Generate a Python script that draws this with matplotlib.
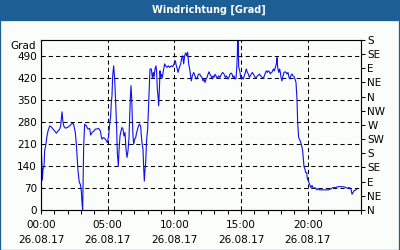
import matplotlib
matplotlib.use('Agg')
import matplotlib.pyplot as plt
from matplotlib.patches import Rectangle

# wind direction readings, hours since 00:00 and degrees
hours = [0.0, 0.075, 0.1, 0.15, 0.225, 0.275, 0.375, 0.45, 0.525, 0.65, 0.775, 0.9,
         1.025, 1.15, 1.275, 1.4, 1.475, 1.575, 1.65, 1.725, 1.825, 1.975, 2.15, 2.275,
         2.4, 2.475, 2.575, 2.65, 2.725, 2.775, 2.875, 2.95, 3.025, 3.075, 3.125, 3.2,
         3.275, 3.4, 3.525, 3.65, 3.725, 3.825, 3.975, 4.075, 4.15, 4.325, 4.45, 4.525,
         4.575, 4.675, 4.775, 4.9, 4.975, 5.075, 5.15, 5.225, 5.275, 5.325, 5.375, 5.45,
         5.525, 5.6, 5.675, 5.725, 5.8, 5.85, 5.925, 6.0, 6.075, 6.15, 6.225, 6.3,
         6.375, 6.45, 6.525, 6.6, 6.65, 6.7, 6.75, 6.8, 6.85, 6.9, 6.95, 7.025, 7.1,
         7.175, 7.275, 7.375, 7.475, 7.525, 7.575, 7.65, 7.7, 7.75, 7.8, 7.85, 7.925,
         8.0, 8.075, 8.125, 8.175, 8.275, 8.35, 8.425, 8.475, 8.55, 8.625, 8.675, 8.725,
         8.775, 8.825, 8.875, 8.925, 8.975, 9.025, 9.1, 9.175, 9.275, 9.35, 9.45, 9.55,
         9.65, 9.775, 9.875, 9.975, 10.075, 10.15, 10.225, 10.275, 10.375, 10.475,
         10.55, 10.625, 10.7, 10.775, 10.85, 10.925, 11.0, 11.075, 11.15, 11.225,
         11.275, 11.35, 11.45, 11.55, 11.65, 11.725, 11.8, 11.9, 11.975, 12.075, 12.15,
         12.225, 12.3, 12.375, 12.45, 12.525, 12.6, 12.675, 12.75, 12.825, 12.9, 12.975,
         13.05, 13.125, 13.225, 13.325, 13.425, 13.525, 13.625, 13.725, 13.825, 13.9,
         13.975, 14.025, 14.1, 14.175, 14.25, 14.325, 14.4, 14.475, 14.55, 14.625,
         14.675, 14.725, 14.75, 14.8, 14.825, 14.875, 14.925, 14.975, 15.025, 15.1,
         15.175, 15.25, 15.325, 15.4, 15.475, 15.55, 15.625, 15.7, 15.775, 15.85,
         15.925, 16.0, 16.075, 16.15, 16.225, 16.3, 16.375, 16.45, 16.525, 16.6,
         16.675, 16.75, 16.825, 16.9, 16.975, 17.05, 17.125, 17.2, 17.275, 17.35,
         17.425, 17.5, 17.575, 17.65, 17.7, 17.75, 17.825, 17.9, 17.975, 18.0, 18.075,
         18.15, 18.225, 18.3, 18.375, 18.45, 18.525, 18.6, 18.675, 18.75, 18.825, 18.9,
         18.975, 19.05, 19.125, 19.2, 19.25, 19.325, 19.4, 19.475, 19.55, 19.625,
         19.675, 19.725, 19.8, 19.85, 19.925, 19.975, 20.025, 20.1, 20.175, 20.25,
         20.325, 20.4, 20.475, 20.55, 20.625, 20.7, 20.775, 20.875, 20.975, 21.075,
         21.175, 21.275, 21.375, 21.475, 21.575, 21.675, 21.775, 21.875, 21.975,
         22.075, 22.175, 22.275, 22.4, 22.525, 22.65, 22.775, 22.875, 22.975, 23.075,
         23.15, 23.225, 23.275, 23.325, 23.4, 23.475, 23.575, 23.675]
degrees = [216, 135, 95, 129, 138, 188, 211, 235, 251, 267, 264, 257,
           251, 244, 251, 257, 267, 312, 278, 265, 260, 262, 267, 273,
           276, 267, 246, 209, 161, 124, 87, 82, 60, 23, 0, 204,
           273, 267, 257, 259, 238, 246, 251, 257, 257, 259, 251, 233,
           225, 230, 228, 220, 214, 235, 273, 299, 342, 363, 426, 458,
           416, 342, 257, 182, 140, 188, 235, 251, 262, 257, 235, 246,
           193, 167, 188, 230, 289, 357, 395, 357, 289, 235, 209, 225, 230,
           246, 262, 273, 267, 235, 214, 193, 135, 92, 129, 151, 225,
           257, 342, 405, 448, 448, 421, 437, 421, 448, 458, 437, 384,
           363, 331, 379, 442, 421, 431, 421, 442, 464, 458, 453, 458,
           453, 458, 455, 464, 474, 458, 448, 437, 453, 464,
           482, 490, 464, 490, 499, 490, 501, 464, 448, 426,
           410, 426, 437, 426, 416, 421, 431, 432, 426, 421, 410,
           416, 405, 416, 421, 431, 439, 431, 426, 416, 426, 421,
           431, 426, 418, 426, 421, 431, 437, 432, 421, 426,
           421, 416, 421, 432, 435, 432, 421, 426, 416, 418,
           448, 490, 545, 532, 453, 448, 437, 421, 416, 421,
           416, 426, 437, 448, 437, 432, 421, 426, 432, 437,
           432, 426, 421, 421, 426, 428, 432, 428, 424, 421,
           418, 426, 435, 442, 437, 442, 439, 432, 437, 439,
           448, 442, 453, 464, 484, 453, 437, 448, 430, 421, 410,
           426, 437, 439, 437, 432, 437, 421, 416, 428, 432, 426,
           424, 416, 405, 352, 278, 230, 223, 216, 204, 188,
           161, 138, 129, 119, 119, 100, 95, 87, 78, 71,
           78, 71, 68, 71, 68, 64, 68, 64, 64, 64,
           64, 64, 64, 64, 64, 66, 68, 71, 71,
           71, 73, 74, 74, 74, 74, 73, 71, 69, 71,
           71, 68, 61, 50, 55, 61, 63, 66]

left_ticks = [0, 70, 140, 210, 280, 350, 420, 490]
compass_ticks = list(range(0, 541, 45))
compass_labels = ['N', 'NE', 'E', 'SE', 'S', 'SW', 'W', 'NW', 'N', 'NE', 'E', 'SE', 'S']
time_ticks = [0, 5, 10, 15, 20]
time_labels = ['00:00\n26.08.17', '05:00\n26.08.17', '10:00\n26.08.17',
               '15:00\n26.08.17', '20:00\n26.08.17']

frame_blue = '#1d5f94'
bg = '#fafdfa'
fs = 7.5

fig = plt.figure(figsize=(4, 2.5), dpi=100, facecolor=bg)

# window frame + title bar
fig.patches.append(Rectangle((0, 0.92), 1, 0.08, transform=fig.transFigure,
                             facecolor=frame_blue, edgecolor='none', zorder=0))
fig.patches.append(Rectangle((0.0012, 0.002), 0.9963, 0.92, transform=fig.transFigure,
                             facecolor='none', edgecolor=frame_blue, linewidth=0.9, zorder=0))
fig.text(0.5225, 0.96, 'Windrichtung [Grad]', color='white', fontsize=7, fontweight='bold',
         ha='center', va='center')

ax = fig.add_axes([0.1025, 0.16, 0.8, 0.68])
ax.set_facecolor(bg)
ax.plot(hours, degrees, color='#1010ee', linewidth=0.8)
ax.set_xlim(0, 24)
ax.set_ylim(0, 540)

ax.set_yticks(left_ticks)
ax.set_yticklabels([str(v) for v in left_ticks], fontsize=fs)
ax.tick_params(axis='y', length=0, pad=3)
ax.set_xticks(time_ticks)
ax.set_xticks(range(0, 25), minor=True)
ax.set_xticklabels(time_labels, fontsize=fs, linespacing=1.6)
ax.tick_params(axis='x', which='both', direction='out', length=3, width=0.75, pad=4)

ax.grid(True, which='major', color='black', linestyle=(0, (4, 3)), linewidth=0.75)
for s in ax.spines.values():
    s.set_linewidth(0.75)

ax2 = ax.twinx()
ax2.set_ylim(0, 540)
ax2.set_yticks(compass_ticks)
ax2.set_yticklabels(compass_labels, fontsize=fs)
ax2.tick_params(axis='y', direction='out', length=3, width=0.75, pad=1.5)

fig.text(0.09, 0.815, 'Grad', fontsize=fs, ha='right', va='center')

fig.savefig('out.png', dpi=100, facecolor=bg)
